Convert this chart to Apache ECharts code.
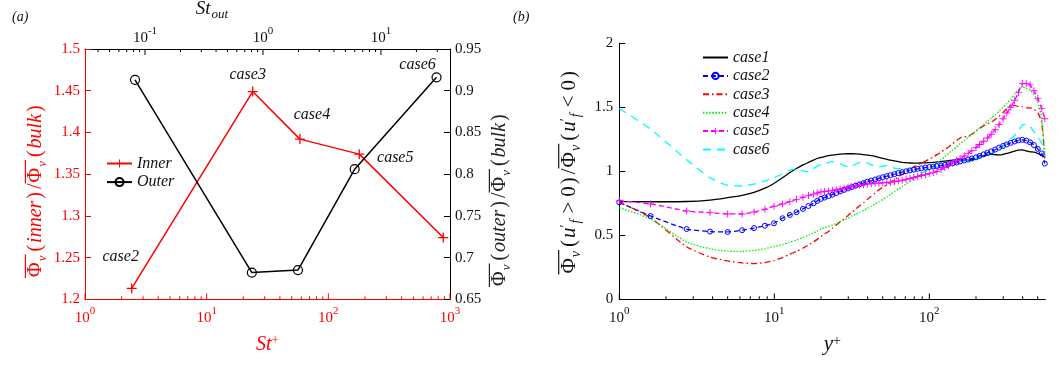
<!DOCTYPE html>
<html><head><meta charset="utf-8">
<script src="https://cdn.jsdelivr.net/npm/echarts@6/dist/echarts.min.js"></script>
<style>html,body{margin:0;padding:0;background:#fff}#c{width:1060px;height:365px}</style>
</head><body><div id="c"></div>
<script>
// ---------- panel (a) data ----------
const stInner = [2.42, 23.9, 58.4, 179.5, 880];
const innerRatio = [1.213, 1.449, 1.392, 1.374, 1.274];
const stOut = [0.0823, 0.805, 1.98, 5.99, 29.6];
const outerRatio = [0.913, 0.682, 0.685, 0.806, 0.916];
const caseNamesA = ['case2', 'case3', 'case4', 'case5', 'case6'];
const bottomTicksA = [1, 10, 100, 1000];
const bottomMinorA = [2,3,4,5,6,7,8,9,20,30,40,50,60,70,80,90,200,300,400,500,600,700,800,900];
const topTicksA = [0.1, 1, 10];
const topMinorA = [0.04,0.05,0.06,0.07,0.08,0.09,0.2,0.3,0.4,0.5,0.6,0.7,0.8,0.9,2,3,4,5,6,7,8,9,20,30];

// ---------- panel (b) data ----------
const yPlus = [1, 1.59, 2.72, 3.85, 5.0, 6.2, 7.4, 8.7, 9.95, 11.3, 12.6, 13.9, 15.3, 16.6, 17.9, 18.9,
  20.0, 21.1, 22.4, 23.7, 25.1, 26.6, 28.2, 29.9, 31.6, 33.5,
  35.5, 37.6, 39.8, 42.2, 44.7, 47.3, 50.1, 53.1, 56.2, 59.6,
  63.1, 66.8, 70.8, 75.0, 79.4, 84.1, 89.1, 94.4, 100, 106,
  112, 119, 126, 133, 141, 150, 158, 168, 178, 188,
  200, 211, 224, 237, 251, 266, 282, 299, 316, 335,
  355, 376, 398, 422, 447, 473, 501, 531, 556];
const case1 = [0.763, 0.762, 0.764, 0.775, 0.794, 0.812, 0.835, 0.868, 0.905, 0.95, 0.99, 1.022, 1.05, 1.07, 1.088, 1.1,
  1.108, 1.115, 1.122, 1.127, 1.131, 1.134, 1.136, 1.137, 1.137, 1.136,
  1.134, 1.131, 1.127, 1.122, 1.116, 1.109, 1.101, 1.094, 1.087, 1.081,
  1.075, 1.07, 1.067, 1.065, 1.064, 1.064, 1.065, 1.066, 1.068, 1.07,
  1.073, 1.076, 1.08, 1.084, 1.088, 1.09, 1.09, 1.088, 1.087, 1.09,
  1.1, 1.11, 1.12, 1.128, 1.132, 1.13, 1.128, 1.132, 1.14, 1.148,
  1.158, 1.166, 1.168, 1.16, 1.152, 1.15, 1.14, 1.125, 1.11];
const case2 = [0.757, 0.651, 0.549, 0.529, 0.526, 0.54, 0.556, 0.575, 0.594, 0.633, 0.659, 0.68, 0.706, 0.729, 0.75, 0.768,
  0.785, 0.795, 0.806, 0.817, 0.83, 0.842, 0.855, 0.866, 0.877, 0.888,
  0.898, 0.908, 0.918, 0.927, 0.936, 0.945, 0.954, 0.962, 0.97, 0.978,
  0.986, 0.993, 1.0, 1.007, 1.013, 1.019, 1.024, 1.029, 1.033, 1.037,
  1.041, 1.046, 1.05, 1.056, 1.062, 1.069, 1.076, 1.084, 1.092, 1.1,
  1.109, 1.12, 1.132, 1.144, 1.156, 1.17, 1.185, 1.198, 1.21, 1.222,
  1.233, 1.242, 1.246, 1.24, 1.226, 1.205, 1.175, 1.14, 1.06];
const case3 = [0.76, 0.638, 0.41, 0.33, 0.30, 0.284, 0.279, 0.287, 0.303, 0.326, 0.352, 0.375, 0.4, 0.424, 0.448, 0.468,
  0.49, 0.51, 0.53, 0.555, 0.58, 0.605, 0.63, 0.655, 0.68, 0.705,
  0.73, 0.755, 0.78, 0.805, 0.83, 0.855, 0.875, 0.895, 0.915, 0.935,
  0.955, 0.975, 0.995, 1.015, 1.035, 1.05, 1.065, 1.08, 1.095, 1.11,
  1.13, 1.15, 1.17, 1.19, 1.215, 1.24, 1.26, 1.27, 1.275, 1.29,
  1.315, 1.335, 1.355, 1.37, 1.385, 1.405, 1.43, 1.46, 1.49, 1.515,
  1.515, 1.505, 1.505, 1.495, 1.495, 1.485, 1.46, 1.38, 1.10];
const case4 = [0.715, 0.628, 0.447, 0.395, 0.376, 0.375, 0.382, 0.395, 0.412, 0.428, 0.446, 0.463, 0.482, 0.5, 0.518, 0.532,
  0.55, 0.56, 0.57, 0.58, 0.592, 0.605, 0.62, 0.635, 0.65, 0.665,
  0.68, 0.695, 0.71, 0.727, 0.745, 0.762, 0.78, 0.8, 0.82, 0.84,
  0.86, 0.88, 0.9, 0.92, 0.94, 0.96, 0.98, 1.0, 1.02, 1.04,
  1.065, 1.09, 1.115, 1.14, 1.165, 1.19, 1.215, 1.24, 1.265, 1.29,
  1.315, 1.34, 1.365, 1.39, 1.415, 1.44, 1.47, 1.5, 1.53, 1.565,
  1.6, 1.635, 1.66, 1.65, 1.635, 1.6, 1.54, 1.42, 1.12];
const case5 = [0.771, 0.745, 0.69, 0.677, 0.667, 0.667, 0.682, 0.703, 0.727, 0.745, 0.763, 0.781, 0.797, 0.81, 0.822, 0.83,
  0.838, 0.842, 0.846, 0.851, 0.856, 0.862, 0.868, 0.875, 0.882, 0.887,
  0.892, 0.896, 0.9, 0.903, 0.906, 0.908, 0.91, 0.912, 0.915, 0.919,
  0.924, 0.93, 0.937, 0.944, 0.952, 0.96, 0.967, 0.974, 0.982, 0.99,
  1.0, 1.015, 1.03, 1.045, 1.065, 1.085, 1.1, 1.12, 1.14, 1.16,
  1.185, 1.21, 1.235, 1.26, 1.29, 1.325, 1.365, 1.41, 1.455, 1.5,
  1.555, 1.615, 1.685, 1.685, 1.675, 1.63, 1.57, 1.49, 1.41];
const case6 = [1.49, 1.33, 1.09, 0.95, 0.89, 0.885, 0.9, 0.925, 0.95, 0.98, 1.01, 1.02, 1.005, 0.995, 1.02, 1.04,
  1.05, 1.06, 1.07, 1.075, 1.07, 1.06, 1.045, 1.035, 1.04, 1.055,
  1.07, 1.075, 1.065, 1.05, 1.04, 1.035, 1.04, 1.045, 1.035, 1.025,
  1.02, 1.025, 1.02, 1.01, 1.0, 0.995, 0.99, 1.0, 1.015, 1.025,
  1.03, 1.04, 1.05, 1.06, 1.065, 1.07, 1.075, 1.08, 1.085, 1.095,
  1.1, 1.11, 1.12, 1.13, 1.14, 1.155, 1.175, 1.19, 1.23, 1.255,
  1.28, 1.32, 1.36, 1.37, 1.35, 1.31, 1.27, 1.22, 1.12];
const caseNamesB = ['case1', 'case2', 'case3', 'case4', 'case5', 'case6'];
const ticksB = [1, 10, 100];
const minorB = [2,3,4,5,6,7,8,9,20,30,40,50,60,70,80,90,200,300,400,500];

// ---------- styling ----------
const SERIF = "'Liberation Serif', 'DejaVu Serif', serif";
const RED = '#ff0000';
const INK = '#111111';
const PLUS = 'path://M-1,-0.13L1,-0.13L1,0.13L-1,0.13Z M-0.13,-1L0.13,-1L0.13,1L-0.13,1Z';

function powLabel(color) {
  return {
    formatter: v => '{b|10}{s|' + Math.round(Math.log10(v)) + '}',
    rich: {
      b: {fontSize: 15, fontFamily: SERIF, color: color, verticalAlign: 'bottom', lineHeight: 20},
      s: {fontSize: 11, fontFamily: SERIF, color: color, verticalAlign: 'top', lineHeight: 12}
    }
  };
}
function mathRich(color, fs) {
  const sm = Math.round(fs * 0.66);
  const base = {fontFamily: SERIF, color: color, lineHeight: fs, verticalAlign: 'top', fontSize: fs};
  return {
    p: Object.assign({}, base, {padding: [0, 0, 0, 1]}),
    l: Object.assign({}, base, {padding: [0, 2, 0, 3]}),
    r: Object.assign({}, base, {padding: [0, 3, 0, 2]}),
    t: Object.assign({}, base),
    g: Object.assign({}, base, {padding: [0, 5, 0, 5]}),
    i: Object.assign({}, base, {fontStyle: 'italic'}),
    v: Object.assign({}, base, {fontStyle: 'italic', fontSize: sm, lineHeight: fs + 3, verticalAlign: 'bottom', padding: [0, 1, 0, 1]}),
    u: Object.assign({}, base, {fontSize: sm, verticalAlign: 'top'}),
    s: Object.assign({}, base, {fontSize: sm, verticalAlign: 'top'})
  };
}

// text width helper so the overline bars match the glyph runs below them
const mctx = document.createElement('canvas').getContext('2d');
function tw(text, st) {
  mctx.font = (st.fontStyle || 'normal') + ' normal ' + st.fontSize + 'px ' + st.fontFamily;
  const pad = st.padding ? st.padding[1] + st.padding[3] : 0;
  return mctx.measureText(text).width + pad;
}
function overName(parts, color, fs, key) {
  const rich = mathRich(color, fs);
  let line1 = '', line2 = '', run = 0, runOver = null, idx = 0;
  const flush = () => {
    if (run > 0) {
      const nm = key + (runOver ? 'o' : 'x') + (idx++);
      rich[nm] = runOver
        ? {width: run, height: 1.2, lineHeight: 4, fontSize: 2, backgroundColor: color, verticalAlign: 'bottom'}
        : {width: run, height: 1.2, lineHeight: 4, fontSize: 2};
      line1 += '{' + nm + '| }';
    }
    run = 0;
  };
  parts.forEach(pt => {
    const over = !!pt[2];
    if (over !== runOver) { flush(); runOver = over; }
    run += tw(pt[1], rich[pt[0]]);
    line2 += '{' + pt[0] + '|' + pt[1] + '}';
  });
  flush();
  return {text: line1 + '\n' + line2, rich: rich};
}
const nameInner = overName([['p','Φ',1],['v','v',1],['l','('],['i','inner'],['r',')'],['t','/'],['p','Φ',1],['v','v',1],['l','('],['i','bulk'],['r',')']], RED, 20, 'A');
const nameOuter = overName([['p','Φ',1],['v','v',1],['l','('],['i','outer'],['r',')'],['t','/'],['p','Φ',1],['v','v',1],['l','('],['i','bulk'],['r',')']], '#222', 20, 'B');
const nameB = overName([['p','Φ',1],['v','v',1],['l','('],['i','u'],['u','\u2032'],['v','f'],['g','>'],['t','0'],['r',')'],['t','/'],
  ['p','Φ',1],['v','v',1],['l','('],['i','u'],['u','\u2032'],['v','f'],['g','<'],['t','0'],['r',')']], INK, 21, 'C');

// tick marks drawn through the axes' own scales
function tickSeries(xIdx, yIdx, vals, yVal, dir, len, color) {
  return {
    type: 'custom', xAxisIndex: xIdx, yAxisIndex: yIdx, silent: true, z: 5, clip: false,
    data: vals.map(v => [v, yVal]),
    renderItem: (params, api) => {
      const p = api.coord([api.value(0), api.value(1)]);
      return {type: 'line', shape: {x1: p[0], y1: p[1], x2: p[0], y2: p[1] + dir * len},
        style: {stroke: color, lineWidth: 1}};
    }
  };
}

const innerLabelOffsets = [[-11, -32], [-5, -17], [12, -24], [36, 4], null];
const outerLabelOffsets = [null, null, null, null, [-19, -13]];
const labelStyle = {fontFamily: SERIF, fontStyle: 'italic', fontSize: 16, color: INK, position: 'inside'};

function buildA(xs, ys, offsets) {
  return xs.map((x, i) => ({
    value: [x, ys[i]],
    label: offsets[i] ? Object.assign({show: true, formatter: caseNamesA[i], offset: offsets[i]}, labelStyle) : {show: false}
  }));
}
function pairs(ys) { return yPlus.map((x, i) => [x, ys[i]]); }

const bStyles = [
  {color: '#000000', type: 'solid', symbol: 'none'},
  {color: '#0000ff', type: [5, 3], symbol: 'circle', size: 5},
  {color: '#ff0000', type: [6, 3, 1.5, 3], symbol: 'none'},
  {color: '#00ee00', type: [1.5, 1.6], symbol: 'none'},
  {color: '#ff00ff', type: [5, 3], symbol: PLUS, size: 7},
  {color: '#00ffff', type: [8, 6], symbol: 'none'}
];
const bData = [case1, case2, case3, case4, case5, case6];

const seriesB = bData.map((d, k) => {
  const st = bStyles[k];
  const s = {
    name: caseNamesB[k], type: 'line', xAxisIndex: 2, yAxisIndex: 2,
    data: pairs(d), smooth: 0.2, lineStyle: {color: st.color, width: 1.3, type: st.type},
    color: st.color, symbol: st.symbol, showSymbol: st.symbol !== 'none', symbolSize: st.size || 4
  };
  if (st.symbol === 'circle') s.itemStyle = {color: 'rgba(0,0,0,0)', borderColor: st.color, borderWidth: 1};
  else s.itemStyle = {color: st.color};
  return s;
});
const legendB = caseNamesB.map((n, k) => bStyles[k].symbol === 'none' ? {name: n, itemStyle: {opacity: 0}} : {name: n});

const option = {
  animation: false,
  backgroundColor: '#ffffff',
  textStyle: {fontFamily: SERIF},
  title: [
    {text: '(a)', left: 7, top: 5, textStyle: {fontFamily: SERIF, fontStyle: 'italic', fontWeight: 'normal', fontSize: 14, color: INK}},
    {text: '(b)', left: 508, top: 5, textStyle: {fontFamily: SERIF, fontStyle: 'italic', fontWeight: 'normal', fontSize: 14, color: INK}}
  ],
  grid: [
    {left: 85, top: 49, width: 365, height: 250.3, outerBoundsMode: 'none'},
    {left: 619.3, top: 43.3, width: 426, height: 256, outerBoundsMode: 'none'}
  ],
  legend: [
    {data: ['Inner', 'Outer'], orient: 'vertical', left: 101, top: 150.5, itemWidth: 25, itemHeight: 10, itemGap: 2.6,
     textStyle: {fontFamily: SERIF, fontStyle: 'italic', fontSize: 16, color: INK, lineHeight: 15}},
    {data: legendB, orient: 'vertical', left: 697, top: 44.5, itemWidth: 25, itemHeight: 8, itemGap: 2.4,
     textStyle: {fontFamily: SERIF, fontStyle: 'italic', fontSize: 16, color: INK, lineHeight: 15}}
  ],
  xAxis: [
    {gridIndex: 0, type: 'log', position: 'bottom', min: 1, max: 1000,
     axisLine: {onZero: false, lineStyle: {color: RED, width: 1}},
     axisTick: {show: false},
     axisLabel: Object.assign({customValues: bottomTicksA, margin: 6}, powLabel(RED)),
     splitLine: {show: false},
     name: '{i|St}{s|+}', nameLocation: 'middle', nameGap: 35,
     nameTextStyle: {rich: mathRich(RED, 20)}},
    {gridIndex: 0, type: 'log', position: 'top', min: 0.031, max: 38.5,
     axisLine: {onZero: false, lineStyle: {color: '#000', width: 1}},
     axisTick: {show: false},
     axisLabel: Object.assign({customValues: topTicksA, margin: 3}, powLabel(INK)),
     splitLine: {show: false},
     name: '{i|St}{v|out}', nameLocation: 'middle', nameGap: 16,
     nameTextStyle: {rich: mathRich(INK, 19), padding: [0, 110, 0, 0]}},
    {gridIndex: 1, type: 'log', position: 'bottom', min: 1, max: 560,
     axisLine: {onZero: false, lineStyle: {color: '#000', width: 1}},
     axisTick: {show: false},
     axisLabel: Object.assign({customValues: ticksB, margin: 6}, powLabel(INK)),
     splitLine: {show: false},
     name: '{i|y}{s|+}', nameLocation: 'middle', nameGap: 35,
     nameTextStyle: {rich: mathRich(INK, 21)}}
  ],
  yAxis: [
    {gridIndex: 0, type: 'value', position: 'left', min: 1.2, max: 1.5, interval: 0.05,
     axisLine: {show: true, onZero: false, lineStyle: {color: RED}},
     axisTick: {show: true, inside: true, length: 6, lineStyle: {color: RED, width: 1}},
     axisLabel: {color: RED, fontSize: 15, fontFamily: SERIF, margin: 5},
     splitLine: {show: false},
     name: nameInner.text,
     nameLocation: 'middle', nameGap: 36, nameRotate: 90,
     nameTextStyle: {rich: nameInner.rich, padding: [0, 32, 0, 0]}},
    {gridIndex: 0, type: 'value', position: 'right', min: 0.65, max: 0.95, interval: 0.05,
     axisLine: {show: true, onZero: false, lineStyle: {color: '#000'}},
     axisTick: {show: true, inside: true, length: 6, lineStyle: {color: '#000', width: 1}},
     axisLabel: {color: INK, fontSize: 15, fontFamily: SERIF, margin: 5},
     splitLine: {show: false},
     name: nameOuter.text,
     nameLocation: 'middle', nameGap: 36, nameRotate: 90,
     nameTextStyle: {rich: nameOuter.rich, padding: [0, 50, 0, 0]}},
    {gridIndex: 1, type: 'value', position: 'left', min: 0, max: 2, interval: 0.5,
     axisLine: {show: true, onZero: false, lineStyle: {color: '#000'}},
     axisTick: {show: true, inside: true, length: 6, lineStyle: {color: '#000', width: 1}},
     axisLabel: {color: INK, fontSize: 15, fontFamily: SERIF, margin: 6},
     splitLine: {show: false},
     name: nameB.text,
     nameLocation: 'middle', nameGap: 36, nameRotate: 90,
     nameTextStyle: {rich: nameB.rich, padding: [0, 0, 0, 0]}}
  ],
  series: [
    {name: 'Inner', type: 'line', xAxisIndex: 0, yAxisIndex: 0,
     data: buildA(stInner, innerRatio, innerLabelOffsets),
     color: RED, lineStyle: {color: RED, width: 1.5}, symbol: PLUS, symbolSize: 10,
     itemStyle: {color: RED}},
    {name: 'Outer', type: 'line', xAxisIndex: 1, yAxisIndex: 1,
     data: buildA(stOut, outerRatio, outerLabelOffsets),
     color: '#000', lineStyle: {color: '#000', width: 1.5}, symbol: 'circle', symbolSize: 9,
     itemStyle: {color: 'rgba(0,0,0,0)', borderColor: '#000', borderWidth: 1.2}},
    tickSeries(0, 0, bottomTicksA, 1.2, -1, 6, RED),
    tickSeries(0, 0, bottomMinorA, 1.2, -1, 3, RED),
    tickSeries(1, 1, topTicksA, 0.95, 1, 6, '#000'),
    tickSeries(1, 1, topMinorA, 0.95, 1, 3, '#000'),
    tickSeries(2, 2, ticksB, 0, -1, 6, '#000'),
    tickSeries(2, 2, minorB, 0, -1, 3, '#000')
  ].concat(seriesB)
};

const chart = echarts.init(document.getElementById('c'), null, {renderer: 'canvas'});
chart.setOption(option);
</script>
</body></html>
